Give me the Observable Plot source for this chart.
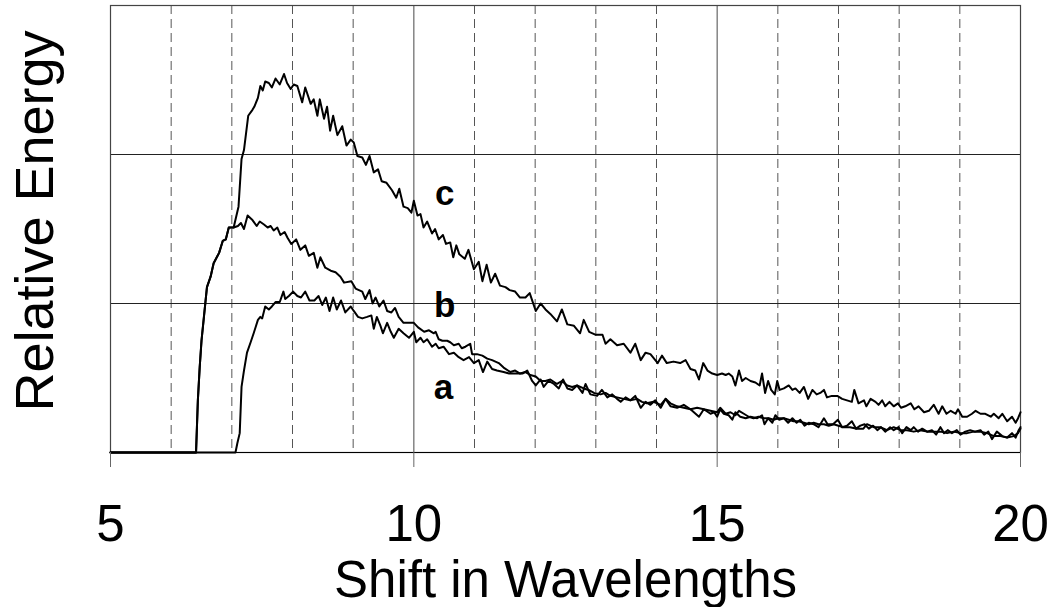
<!DOCTYPE html>
<html>
<head>
<meta charset="utf-8">
<script src="https://cdn.jsdelivr.net/npm/d3@7"></script>
<script src="https://cdn.jsdelivr.net/npm/@observablehq/plot@0.6"></script>
<style>
  html, body { margin: 0; padding: 0; background: #fff; }
  #chart svg { display: block; }
</style>
</head>
<body>
<div id="chart"></div>
<script>
// Curve a: [shift in wavelengths, relative energy]
const curveA = [[5,0],[7.06,0],[7.09,0.06],[7.13,0.13],[7.16,0.44],[7.20,0.55],[7.25,0.67],[7.31,0.74],[7.36,0.80],[7.43,0.89],[7.47,0.91],[7.50,0.90],[7.55,0.98],[7.61,0.96],[7.66,0.98],[7.72,1.01],[7.79,1.01],[7.85,1.08],[7.88,1.03],[7.94,1.05],[8.01,1.08],[8.08,1.05],[8.14,1.04],[8.21,1.08],[8.28,1.02],[8.36,1.02],[8.43,1.05],[8.49,0.99],[8.55,1.04],[8.61,0.95],[8.67,1.04],[8.73,0.96],[8.80,1.02],[8.87,0.94],[8.96,0.98],[9.01,0.95],[9.08,0.91],[9.15,0.90],[9.23,0.91],[9.30,0.92],[9.34,0.83],[9.39,0.91],[9.45,0.85],[9.49,0.80],[9.56,0.87],[9.62,0.81],[9.67,0.77],[9.75,0.83],[9.83,0.80],[9.92,0.77],[10.00,0.81],[10.04,0.74],[10.11,0.77],[10.16,0.74],[10.22,0.76],[10.30,0.71],[10.36,0.73],[10.41,0.70],[10.49,0.71],[10.58,0.66],[10.66,0.67],[10.74,0.64],[10.82,0.62],[10.91,0.64],[10.99,0.60],[11.07,0.62],[11.14,0.54],[11.21,0.61],[11.29,0.56],[11.37,0.55],[11.48,0.54],[11.57,0.53],[11.68,0.53],[11.79,0.53],[11.87,0.55],[11.95,0.48],[12.01,0.45],[12.09,0.49],[12.14,0.44],[12.22,0.48],[12.31,0.46],[12.39,0.43],[12.46,0.49],[12.53,0.43],[12.61,0.42],[12.69,0.45],[12.78,0.40],[12.83,0.46],[12.91,0.39],[13.02,0.38],[13.10,0.42],[13.19,0.37],[13.27,0.39],[13.35,0.36],[13.41,0.34],[13.49,0.37],[13.57,0.35],[13.65,0.38],[13.74,0.30],[13.82,0.34],[13.90,0.32],[13.98,0.35],[14.07,0.30],[14.15,0.36],[14.23,0.33],[14.34,0.31],[14.45,0.30],[14.56,0.29],[14.70,0.24],[14.78,0.29],[14.89,0.26],[14.95,0.27],[15.00,0.24],[15.05,0.29],[15.11,0.26],[15.19,0.25],[15.25,0.22],[15.30,0.27],[15.38,0.24],[15.47,0.23],[15.55,0.24],[15.66,0.23],[15.74,0.25],[15.78,0.19],[15.84,0.23],[15.91,0.20],[15.96,0.25],[16.02,0.22],[16.10,0.23],[16.17,0.20],[16.24,0.23],[16.31,0.20],[16.37,0.22],[16.44,0.18],[16.51,0.20],[16.59,0.19],[16.67,0.17],[16.76,0.23],[16.82,0.19],[16.91,0.19],[16.99,0.22],[17.06,0.17],[17.14,0.18],[17.22,0.21],[17.29,0.16],[17.36,0.18],[17.43,0.19],[17.50,0.16],[17.57,0.18],[17.64,0.15],[17.70,0.17],[17.77,0.14],[17.85,0.17],[17.91,0.15],[17.99,0.17],[18.05,0.13],[18.12,0.17],[18.19,0.15],[18.24,0.17],[18.31,0.14],[18.38,0.16],[18.46,0.14],[18.54,0.15],[18.61,0.12],[18.68,0.17],[18.74,0.13],[18.80,0.15],[18.87,0.13],[18.95,0.15],[19.01,0.12],[19.09,0.14],[19.17,0.15],[19.25,0.14],[19.34,0.15],[19.40,0.12],[19.47,0.14],[19.53,0.09],[19.61,0.14],[19.70,0.11],[19.78,0.10],[19.86,0.13],[19.92,0.10],[19.97,0.15],[20.00,0.17]];

// Curve b
const curveB = [[5,0],[6.41,0],[6.44,0.35],[6.47,0.57],[6.50,0.75],[6.54,0.91],[6.59,1.11],[6.65,1.18],[6.70,1.27],[6.79,1.34],[6.85,1.42],[6.90,1.43],[6.95,1.51],[7.03,1.51],[7.10,1.52],[7.15,1.54],[7.20,1.50],[7.26,1.59],[7.34,1.56],[7.41,1.52],[7.46,1.55],[7.53,1.53],[7.59,1.51],[7.64,1.52],[7.69,1.49],[7.75,1.51],[7.80,1.46],[7.87,1.48],[7.92,1.44],[7.98,1.40],[8.06,1.43],[8.13,1.36],[8.21,1.39],[8.27,1.32],[8.35,1.34],[8.41,1.24],[8.46,1.31],[8.54,1.24],[8.63,1.22],[8.71,1.21],[8.79,1.18],[8.85,1.14],[8.97,1.15],[9.04,1.10],[9.15,1.08],[9.20,1.03],[9.27,1.09],[9.32,1.00],[9.37,1.04],[9.43,0.98],[9.50,1.02],[9.56,0.95],[9.63,0.94],[9.69,0.97],[9.75,0.91],[9.83,0.87],[9.92,0.87],[10.00,0.87],[10.07,0.84],[10.17,0.81],[10.25,0.82],[10.33,0.80],[10.36,0.81],[10.41,0.76],[10.47,0.75],[10.55,0.75],[10.60,0.74],[10.66,0.72],[10.74,0.73],[10.79,0.70],[10.85,0.71],[10.93,0.73],[10.96,0.66],[11.04,0.66],[11.13,0.65],[11.21,0.63],[11.29,0.62],[11.40,0.60],[11.48,0.57],[11.59,0.54],[11.67,0.55],[11.75,0.53],[11.84,0.54],[11.92,0.52],[12.01,0.51],[12.09,0.48],[12.17,0.48],[12.25,0.49],[12.36,0.46],[12.44,0.48],[12.53,0.45],[12.61,0.44],[12.69,0.45],[12.80,0.43],[12.88,0.42],[12.97,0.40],[13.08,0.39],[13.16,0.40],[13.24,0.38],[13.35,0.37],[13.46,0.36],[13.57,0.35],[13.68,0.36],[13.76,0.34],[13.84,0.33],[13.95,0.34],[14.07,0.32],[14.15,0.36],[14.23,0.31],[14.34,0.30],[14.45,0.32],[14.56,0.29],[14.67,0.30],[14.78,0.29],[14.89,0.28],[15.00,0.27],[15.05,0.30],[15.14,0.26],[15.22,0.27],[15.30,0.25],[15.36,0.28],[15.44,0.26],[15.52,0.24],[15.60,0.23],[15.68,0.24],[15.77,0.23],[15.85,0.23],[15.93,0.22],[16.01,0.23],[16.10,0.23],[16.18,0.22],[16.26,0.21],[16.34,0.21],[16.43,0.20],[16.51,0.19],[16.59,0.20],[16.67,0.19],[16.76,0.19],[16.84,0.18],[16.92,0.19],[17.00,0.18],[17.08,0.17],[17.19,0.17],[17.30,0.16],[17.41,0.16],[17.47,0.19],[17.58,0.17],[17.69,0.17],[17.80,0.15],[17.91,0.17],[18.02,0.15],[18.13,0.15],[18.24,0.14],[18.35,0.15],[18.46,0.14],[18.57,0.14],[18.68,0.14],[18.79,0.13],[18.90,0.14],[19.01,0.13],[19.12,0.13],[19.23,0.14],[19.34,0.14],[19.45,0.13],[19.56,0.11],[19.67,0.11],[19.78,0.10],[19.89,0.11],[19.96,0.13],[20.00,0.16]];

// Curve c
const curveC = [[5,0],[6.41,0],[6.44,0.35],[6.47,0.57],[6.50,0.75],[6.54,0.91],[6.59,1.11],[6.65,1.18],[6.70,1.27],[6.79,1.34],[6.85,1.42],[6.90,1.43],[6.95,1.51],[7.03,1.51],[7.11,1.65],[7.16,1.97],[7.20,2.03],[7.27,2.26],[7.34,2.30],[7.37,2.32],[7.43,2.38],[7.47,2.46],[7.51,2.43],[7.55,2.49],[7.61,2.48],[7.66,2.45],[7.72,2.51],[7.79,2.47],[7.86,2.54],[7.91,2.48],[7.97,2.44],[8.02,2.47],[8.08,2.46],[8.16,2.35],[8.21,2.45],[8.30,2.34],[8.35,2.37],[8.41,2.26],[8.45,2.37],[8.52,2.24],[8.57,2.32],[8.62,2.16],[8.67,2.26],[8.74,2.13],[8.82,2.19],[8.89,2.06],[8.96,2.10],[9.01,2.08],[9.07,1.99],[9.15,1.98],[9.21,1.93],[9.27,1.99],[9.34,1.88],[9.41,1.90],[9.47,1.82],[9.55,1.81],[9.64,1.76],[9.71,1.71],[9.76,1.77],[9.83,1.65],[9.90,1.64],[9.96,1.61],[10.00,1.69],[10.06,1.59],[10.11,1.60],[10.16,1.51],[10.22,1.55],[10.30,1.47],[10.35,1.50],[10.41,1.43],[10.48,1.46],[10.53,1.40],[10.60,1.41],[10.65,1.31],[10.70,1.39],[10.75,1.33],[10.84,1.30],[10.90,1.36],[10.99,1.23],[11.07,1.28],[11.13,1.15],[11.20,1.26],[11.27,1.14],[11.34,1.20],[11.42,1.12],[11.51,1.11],[11.58,1.09],[11.67,1.08],[11.75,1.04],[11.84,1.04],[11.91,1.07],[12.01,0.95],[12.09,1.00],[12.17,0.96],[12.25,0.93],[12.36,0.88],[12.44,0.96],[12.53,0.86],[12.64,0.85],[12.74,0.80],[12.80,0.89],[12.89,0.81],[13.00,0.79],[13.11,0.79],[13.16,0.73],[13.24,0.76],[13.35,0.72],[13.46,0.73],[13.57,0.67],[13.65,0.73],[13.74,0.62],[13.82,0.67],[13.90,0.66],[14.02,0.60],[14.09,0.65],[14.17,0.60],[14.28,0.61],[14.39,0.60],[14.48,0.62],[14.56,0.56],[14.64,0.55],[14.70,0.49],[14.77,0.60],[14.84,0.55],[14.92,0.53],[15.00,0.52],[15.08,0.53],[15.14,0.52],[15.19,0.53],[15.25,0.51],[15.30,0.45],[15.36,0.55],[15.41,0.48],[15.47,0.50],[15.55,0.48],[15.63,0.47],[15.70,0.45],[15.74,0.53],[15.79,0.40],[15.84,0.48],[15.89,0.42],[15.95,0.39],[15.99,0.48],[16.03,0.42],[16.10,0.43],[16.18,0.45],[16.24,0.42],[16.29,0.43],[16.36,0.40],[16.43,0.44],[16.50,0.36],[16.57,0.42],[16.64,0.39],[16.70,0.40],[16.76,0.42],[16.81,0.37],[16.89,0.38],[16.98,0.38],[17.06,0.36],[17.14,0.35],[17.22,0.34],[17.26,0.42],[17.33,0.33],[17.42,0.35],[17.46,0.31],[17.53,0.36],[17.61,0.34],[17.66,0.32],[17.72,0.35],[17.77,0.31],[17.84,0.34],[17.91,0.31],[17.98,0.33],[18.03,0.30],[18.10,0.31],[18.19,0.33],[18.25,0.29],[18.32,0.31],[18.41,0.27],[18.49,0.28],[18.57,0.32],[18.65,0.26],[18.71,0.31],[18.78,0.26],[18.85,0.28],[18.93,0.26],[18.97,0.29],[19.04,0.24],[19.12,0.24],[19.20,0.26],[19.26,0.28],[19.34,0.26],[19.42,0.26],[19.51,0.24],[19.56,0.26],[19.64,0.23],[19.70,0.26],[19.78,0.21],[19.86,0.24],[19.92,0.20],[19.96,0.23],[20.00,0.27]];

const seriesNames = ["a", "b", "c"];
const labelX = [10.49, 10.51, 10.51];
const labelY = [0.36, 0.91, 1.66];

const xTicks = [5, 10, 15, 20];
const xSolidGrid = [10, 15];
const xDashedGrid = [6, 7, 8, 9, 11, 12, 13, 14, 16, 17, 18, 19];
const yGrid = [1, 2];

const rows = [];
[curveA, curveB, curveC].forEach((pts, i) => {
  pts.forEach(([x, y]) => rows.push({series: seriesNames[i], x, y}));
});
const labels = seriesNames.map((s, i) => ({s, x: labelX[i], y: labelY[i]}));

const font = "'Liberation Sans', Arial, Helvetica, sans-serif";

const chart = Plot.plot({
  width: 1052,
  height: 607,
  marginLeft: 110,
  marginRight: 32,
  marginTop: 5,
  marginBottom: 155,
  style: {fontFamily: font, background: "#fff", color: "#000", overflow: "visible"},
  x: {domain: [5, 20]},
  y: {domain: [0, 3]},
  marks: [
    Plot.ruleX(xDashedGrid, {stroke: "#555", strokeWidth: 1, strokeDasharray: "9,5"}),
    Plot.ruleX(xSolidGrid, {stroke: "#666", strokeWidth: 1.2}),
    Plot.ruleY(yGrid, {stroke: "#222", strokeWidth: 1}),
    Plot.frame({stroke: "#444", strokeWidth: 1.2}),
    Plot.ruleY([0], {stroke: "#000", strokeWidth: 1.2}),
    Plot.line(rows, {x: "x", y: "y", z: "series", stroke: "#000", strokeWidth: 2, strokeLinejoin: "round"}),
    Plot.text(labels, {x: "x", y: "y", text: "s", fontSize: 35, fontWeight: "bold", textAnchor: "middle", lineAnchor: "bottom", fill: "#000"}),
    Plot.axisX({
      ticks: xTicks,
      tickSize: 15,
      tickPadding: 37,
      fontSize: 51,
      stroke: "#666",
      fill: "#000",
      label: "Shift in Wavelengths",
      labelAnchor: "center",
      labelArrow: "none",
      labelOffset: 144
    }),
    Plot.axisY({ticks: [], label: null}),
    Plot.text(["Relative Energy"], {
      text: d => d,
      frameAnchor: "left",
      rotate: -90,
      dx: -58,
      dy: -8,
      fontSize: 54,
      textAnchor: "middle",
      lineAnchor: "bottom",
      fill: "#000"
    })
  ]
});

document.getElementById("chart").appendChild(chart);
</script>
</body>
</html>
